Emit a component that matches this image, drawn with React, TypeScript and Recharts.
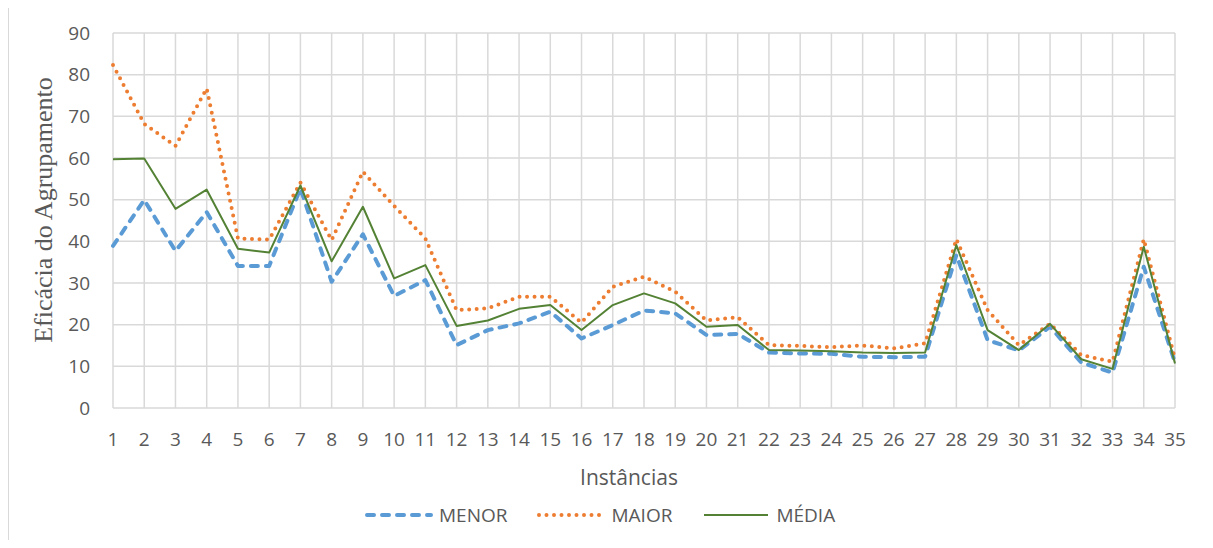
import React from "react";
import { LineChart, Line, XAxis, YAxis, CartesianGrid, Legend, Label } from "recharts";

const instancias = [
  "1", "2", "3", "4", "5", "6", "7", "8", "9", "10", "11", "12", "13", "14", "15", "16", "17", "18",
  "19", "20", "21", "22", "23", "24", "25", "26", "27", "28", "29", "30", "31", "32", "33", "34", "35",
];

const menor = [
  38.9, 49.9, 37.7, 47.0, 34.1, 34.1, 52.7, 30.3, 41.7, 26.9, 30.7, 15.1, 18.7, 20.3, 23.1, 16.7, 19.9, 23.4,
  22.7, 17.5, 17.8, 13.3, 13.1, 13.0, 12.3, 12.2, 12.3, 36.7, 16.3, 13.8, 19.5, 10.9, 8.5, 33.9, 10.9,
];

const maior = [
  82.3, 68.2, 62.9, 76.7, 40.7, 40.4, 54.1, 40.3, 56.7, 48.5, 40.7, 23.5, 23.9, 26.7, 26.7, 20.5, 29.1, 31.5,
  27.9, 21.0, 21.8, 15.1, 14.9, 14.6, 15.0, 14.3, 15.5, 40.5, 23.5, 15.1, 20.2, 12.7, 11.1, 40.5, 11.8,
];

const media = [
  59.7, 59.9, 47.8, 52.4, 38.2, 37.3, 53.4, 35.2, 48.3, 31.1, 34.3, 19.7, 21.0, 23.8, 24.7, 18.7, 24.7, 27.5,
  25.1, 19.5, 19.9, 13.9, 13.8, 13.6, 13.3, 13.2, 13.3, 39.1, 18.7, 13.9, 20.2, 11.7, 9.4, 38.7, 10.7,
];

const yTicks = [0, 10, 20, 30, 40, 50, 60, 70, 80, 90];

const data = instancias.map((inst, i) => ({
  inst,
  MENOR: menor[i],
  MAIOR: maior[i],
  MEDIA: media[i],
}));

const FONT = "'Open Sans', sans-serif";
const GRAY = "#595959";

const series = [
  { key: "MENOR", name: "MENOR", color: "#5b9bd5", width: 4, dash: "7 8" },
  { key: "MAIOR", name: "MAIOR", color: "#ed7d31", width: 4, dash: "0 7.5" },
  { key: "MEDIA", name: "MÉDIA", color: "#548235", width: 2, dash: undefined as string | undefined },
];

function ChartLegend() {
  return (
    <div style={{ height: 42, paddingTop: 12, boxSizing: "border-box" }}>
      <div style={{ display: "flex", alignItems: "center", height: 30, paddingLeft: 357 }}>
        {series.map((s, i) => (
          <div key={s.key} style={{ display: "flex", alignItems: "center", marginRight: i < 2 ? 30 : 0 }}>
            <svg width={68} height={10} style={{ marginRight: 6 }}>
              <line
                x1={2}
                y1={5}
                x2={66}
                y2={5}
                stroke={s.color}
                strokeWidth={s.width}
                strokeDasharray={s.dash}
                strokeLinecap={s.dash ? "round" : "butt"}
              />
            </svg>
            <span style={{ fontFamily: FONT, fontSize: 19, color: GRAY }}>{s.name}</span>
          </div>
        ))}
      </div>
    </div>
  );
}

export default function App() {
  return (
    <div style={{ position: "relative", width: 1213, height: 548, margin: -8, overflow: "hidden" }}>
      <div
        style={{
          position: "absolute",
          left: 7,
          top: 5,
          width: 1300,
          height: 600,
          borderTop: "2px solid #d9d9d9",
          borderLeft: "2px solid #d9d9d9",
        }}
      />
      <div style={{ position: "absolute", left: 8, top: 8 }}>
        <LineChart width={1205} height={540} data={data} margin={{ top: 25, right: 38, left: 0, bottom: 18 }}>
          <CartesianGrid stroke="#d9d9d9" strokeWidth={1.5} />
          <XAxis
            dataKey="inst"
            height={80}
            axisLine={false}
            tickLine={false}
            tickSize={0}
            tickMargin={25}
            interval={0}
            tick={{ fill: GRAY, fontSize: 19, fontFamily: FONT }}
          >
            <Label
              content={() => (
                <text
                  x={621}
                  y={469}
                  textAnchor="middle"
                  dominantBaseline="central"
                  fill={GRAY}
                  fontSize={21}
                  fontFamily={FONT}
                >
                  Instâncias
                </text>
              )}
            />
          </XAxis>
          <YAxis
            width={105}
            domain={[0, 90]}
            ticks={yTicks}
            axisLine={false}
            tickLine={false}
            tickSize={0}
            tickMargin={23}
            tick={{ fill: GRAY, fontSize: 19, fontFamily: FONT }}
          >
            <Label
              content={() => (
                <text
                  x={35}
                  y={202}
                  transform="rotate(-90, 35, 202)"
                  textAnchor="middle"
                  dominantBaseline="central"
                  fill={GRAY}
                  fontSize={26}
                  fontFamily="'Liberation Serif', 'Times New Roman', serif"
                >
                  Eficácia do Agrupamento
                </text>
              )}
            />
          </YAxis>
          <Legend verticalAlign="bottom" content={() => <ChartLegend />} />
          {series.map((s) => (
            <Line
              key={s.key}
              type="linear"
              dataKey={s.key}
              name={s.name}
              stroke={s.color}
              strokeWidth={s.width}
              strokeDasharray={s.dash}
              strokeLinecap={s.dash ? "round" : "butt"}
              strokeLinejoin="round"
              dot={false}
              activeDot={false}
              isAnimationActive={false}
            />
          ))}
        </LineChart>
      </div>
    </div>
  );
}
